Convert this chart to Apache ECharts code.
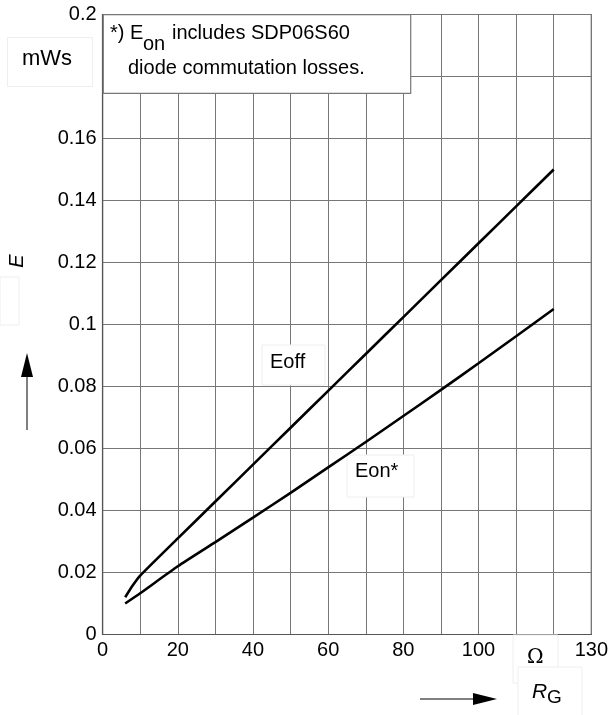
<!DOCTYPE html>
<html>
<head>
<meta charset="utf-8">
<script src="https://cdn.jsdelivr.net/npm/echarts@6/dist/echarts.min.js"></script>
<style>html,body{margin:0;padding:0;background:#fff}#c{width:611px;height:715px}</style>
</head>
<body>
<div id="c"></div>
<script>
var eoffRg = [6, 8, 10, 20, 30, 40, 50, 60, 70, 80, 90, 100, 110, 120];
var eoffValues = [0.012, 0.0158, 0.0190, 0.0310, 0.0429, 0.0548, 0.0667, 0.0786, 0.0905, 0.1024, 0.1143, 0.1262, 0.1381, 0.150];
var eonRg = [6, 10, 20, 30, 40, 50, 60, 70, 80, 90, 100, 110, 120];
var eonValues = [0.0100, 0.0133, 0.0220, 0.0298, 0.0377, 0.0457, 0.0539, 0.0621, 0.0705, 0.0789, 0.0875, 0.0962, 0.105];
var xTickLabels = [0, 20, 40, 60, 80, 100, 130];
var yHiddenTick = 0.18;

var F = 'Liberation Sans, Arial, sans-serif';
var chart = echarts.init(document.getElementById('c'));
function pairs(xs, ys){ return xs.map(function(x,i){return [x, ys[i]];}); }

chart.setOption({
  animation: false,
  backgroundColor: '#fff',
  grid: {left: 102.6, top: 14.5, width: 490, height: 620, show: true, borderColor: '#555', borderWidth: 1.2, backgroundColor: 'transparent'},
  xAxis: {
    type: 'value', min: 0, max: 130, interval: 10,
    axisLine: {show: true, lineStyle: {color: '#555', width: 1.2}},
    axisTick: {show: false},
    splitLine: {show: true, lineStyle: {color: '#777', width: 1}},
    axisLabel: {
      color: '#000', fontFamily: F, fontSize: 20, margin: 6, showMaxLabel: true,
      formatter: function(v){ return xTickLabels.indexOf(Math.round(v)) >= 0 ? String(Math.round(v)) : ''; }
    }
  },
  yAxis: {
    type: 'value', min: 0, max: 0.2, interval: 0.02,
    axisLine: {show: true, lineStyle: {color: '#555', width: 1.2}},
    axisTick: {show: false},
    splitLine: {show: true, lineStyle: {color: '#777', width: 1}},
    axisLabel: {
      color: '#000', fontFamily: F, fontSize: 20, margin: 6, showMaxLabel: true,
      formatter: function(v){ var r = parseFloat(v.toFixed(2)); return Math.abs(r - yHiddenTick) < 1e-6 ? '' : String(r); }
    }
  },
  series: [
    {name: 'Eoff', type: 'line', data: pairs(eoffRg, eoffValues), smooth: 0.2, showSymbol: false,
     lineStyle: {color: '#000', width: 2.6}, z: 5},
    {name: 'Eon*', type: 'line', data: pairs(eonRg, eonValues), smooth: 0.2, showSymbol: false,
     lineStyle: {color: '#000', width: 2.6}, z: 5}
  ],
  graphic: [
    {type: 'rect', z: 100, shape: {x: 103.3, y: 14.7, width: 307.4, height: 78.6}, style: {fill: '#fff', stroke: '#777', lineWidth: 1.2}},
    {type: 'text', z: 101, left: 110, top: 23, style: {text: '*) E', fill: '#000', font: '20px ' + F}},
    {type: 'text', z: 101, left: 143, top: 34, style: {text: 'on', fill: '#000', font: '20px ' + F}},
    {type: 'text', z: 101, left: 172, top: 23, style: {text: 'includes SDP06S60', fill: '#000', font: '20px ' + F}},
    {type: 'text', z: 101, left: 128, top: 58, style: {text: 'diode commutation losses.', fill: '#000', font: '20px ' + F}},
    {type: 'rect', z: 100, shape: {x: 7.5, y: 37.5, width: 85, height: 49}, style: {fill: '#fff', stroke: '#eee', lineWidth: 1}},
    {type: 'text', z: 101, left: 22, top: 48, style: {text: 'mWs', fill: '#000', font: '22px ' + F}},
    {type: 'rect', z: 1, shape: {x: 262, y: 345, width: 63, height: 40}, style: {fill: '#fff', stroke: '#eee', lineWidth: 1}},
    {type: 'text', z: 101, left: 270, top: 352, style: {text: 'Eoff', fill: '#000', font: '20px ' + F}},
    {type: 'rect', z: 1, shape: {x: 347, y: 455, width: 67, height: 42}, style: {fill: '#fff', stroke: '#eee', lineWidth: 1}},
    {type: 'text', z: 101, left: 355, top: 461, style: {text: 'Eon*', fill: '#000', font: '20px ' + F}},
    {type: 'rect', z: 1, shape: {x: 0, y: 277, width: 19, height: 48}, style: {fill: '#fff', stroke: '#eee', lineWidth: 1}},
    {type: 'text', z: 101, x: 17, y: 261, rotation: Math.PI/2, style: {text: 'E', fill: '#000', font: 'italic 20px ' + F, textAlign: 'center', textVerticalAlign: 'middle'}},
    {type: 'line', z: 101, shape: {x1: 27, y1: 430, x2: 27, y2: 370}, style: {stroke: '#000', lineWidth: 1}},
    {type: 'polygon', z: 101, shape: {points: [[27, 353], [21, 377], [33, 377]]}, style: {fill: '#000'}},
    {type: 'rect', z: 1, shape: {x: 513, y: 635, width: 45, height: 48}, style: {fill: '#fff', stroke: '#eee', lineWidth: 1}},
    {type: 'text', z: 101, left: 527, top: 648, style: {text: 'Ω', fill: '#000', font: '20px DejaVu Serif, serif'}},
    {type: 'rect', z: 1, shape: {x: 518, y: 667, width: 64, height: 60}, style: {fill: '#fff', stroke: '#eee', lineWidth: 1}},
    {type: 'text', z: 101, left: 532, top: 682, style: {text: 'R', fill: '#000', font: 'italic 21px ' + F}},
    {type: 'text', z: 101, left: 547, top: 688, style: {text: 'G', fill: '#000', font: '19px ' + F}},
    {type: 'line', z: 101, shape: {x1: 420, y1: 699, x2: 475, y2: 699}, style: {stroke: '#000', lineWidth: 1}},
    {type: 'polygon', z: 101, shape: {points: [[497, 699], [473, 693], [473, 705]]}, style: {fill: '#000'}}
  ]
});
</script>
</body>
</html>
